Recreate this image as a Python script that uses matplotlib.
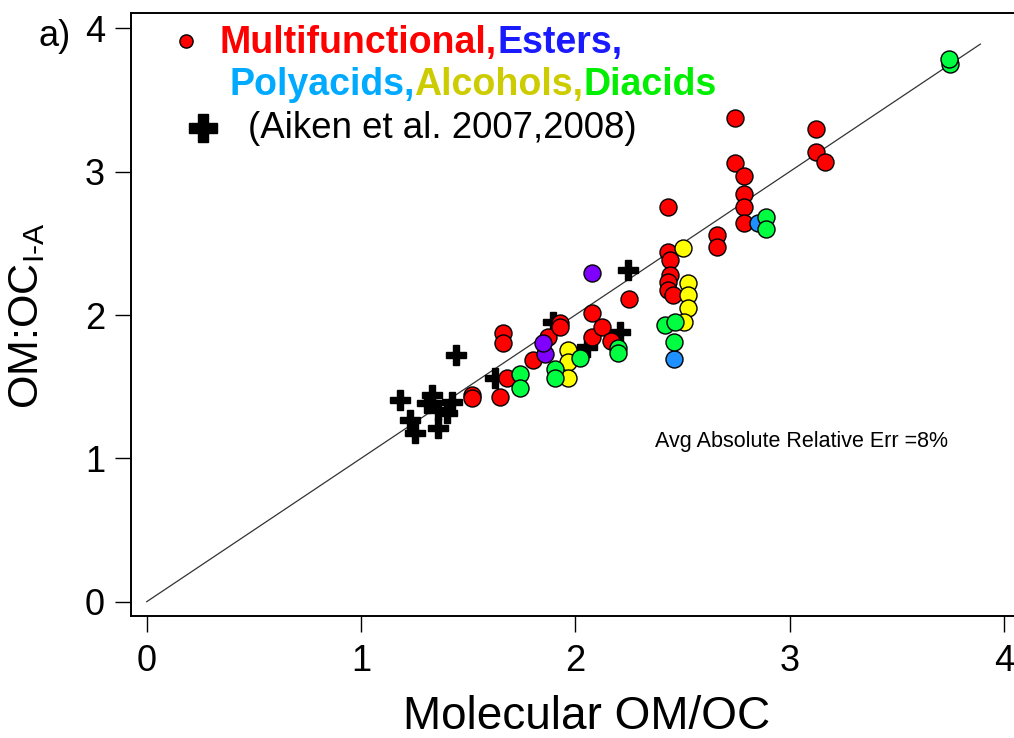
import matplotlib
matplotlib.use("Agg")
from matplotlib import pyplot as plt
import numpy as np

plt.rcParams['font.family'] = ['Liberation Sans', 'DejaVu Sans']
plt.rcParams['mathtext.fontset'] = 'custom'
plt.rcParams['mathtext.rm'] = 'Liberation Sans'
plt.rcParams['mathtext.default'] = 'regular'

# Data (Molecular OM/OC, OM:OC I-A)
multi_x = [1.517, 1.517, 1.649, 1.664, 1.664, 1.68, 1.804, 1.874, 1.929, 1.929,
           2.077, 2.077, 2.123, 2.165, 2.252, 2.434, 2.434, 2.442, 2.442, 2.434,
           2.434, 2.457, 2.66, 2.66, 2.745, 2.745, 2.787, 2.787, 2.787, 2.787,
           3.123, 3.123, 3.165]
multi_y = [1.442, 1.419, 1.43, 1.872, 1.803, 1.558, 1.686, 1.849, 1.942, 1.918,
           2.016, 1.849, 1.914, 1.821, 2.11, 2.756, 2.442, 2.384, 2.279, 2.232,
           2.174, 2.14, 2.558, 2.476, 3.372, 3.058, 2.97, 2.844, 2.751, 2.64,
           3.295, 3.139, 3.069]
esters_x = [1.859, 1.848, 2.077]
esters_y = [1.728, 1.807, 2.291]
poly_x = [2.461, 2.854]
poly_y = [1.691, 2.64]
alcohol_x = [1.967, 1.967, 1.967, 2.504, 2.527, 2.527, 2.527, 2.507]
alcohol_y = [1.756, 1.674, 1.558, 2.465, 2.225, 2.14, 2.047, 1.953]
diacid_x = [1.742, 1.742, 1.905, 1.905, 2.022, 2.2, 2.2, 2.419, 2.465, 2.461,
            2.89, 2.89, 3.75, 3.745]
diacid_y = [1.588, 1.488, 1.621, 1.558, 1.698, 1.768, 1.733, 1.93, 1.953, 1.814,
            2.681, 2.598, 3.75, 3.784]
aiken_x = [1.182, 1.228, 1.252, 1.307, 1.33, 1.36, 1.36, 1.40, 1.423, 1.445,
           1.625, 1.897, 2.053, 2.209, 2.247]
aiken_y = [1.407, 1.267, 1.177, 1.386, 1.442, 1.337, 1.21, 1.314, 1.395, 1.72,
           1.558, 1.953, 1.779, 1.883, 2.317]
line_end = 3.89

W, H = 1014, 738
fig = plt.figure(figsize=(W / 100, H / 100), dpi=100)
ax = fig.add_axes([130.7 / W, 1 - 616 / H, 1 - 130.7 / W, (616 - 12.7) / H])

# 1:1 line
ax.plot([0, line_end], [0, line_end], color='#333333', lw=0.9, zorder=1)

# Aiken et al. data
ax.plot(aiken_x, aiken_y, 'P', color='black', markersize=14.5, zorder=2)

groups = [
    (multi_x, multi_y, '#ff0000'),
    (esters_x, esters_y, '#7f00ff'),
    (poly_x, poly_y, '#1e90ff'),
    (alcohol_x, alcohol_y, '#ffff00'),
    (diacid_x, diacid_y, '#00ff40'),
]
for gx, gy, c in groups:
    ax.scatter(gx, gy, s=150, c=c, edgecolors='black', linewidths=1.0, zorder=3)

ax.set_xlim(-0.0747, 4.047)
ax.set_ylim(-0.0998, 4.109)
ax.set_xticks([0, 1, 2, 3, 4])
ax.set_yticks([0, 1, 2, 3, 4])
ax.tick_params(direction='out', length=11.5, width=1.0, labelsize=26)
ax.tick_params(axis='x', pad=9)
ax.tick_params(axis='y', pad=7)
ax.spines['right'].set_visible(False)
for s in ['left', 'bottom', 'top']:
    ax.spines[s].set_linewidth(1.4)

ax.set_xlabel('Molecular OM/OC', fontsize=33)
ax.xaxis.set_label_coords(0.516, -0.131)
ax.set_ylabel(r'OM:OC$_{\text{I-A}}$', fontsize=31)
ax.yaxis.set_label_coords(-0.095, 0.497)

# panel label
fig.text(38 / W, 1 - 46 / H, 'a)', fontsize=26, va='baseline', ha='left')

# legend text, built piece by piece
t1 = fig.text(220 / W, 1 - 53 / H, 'Multifunctional,', fontsize=27,
              fontweight='bold', color='#ff0000', va='baseline')
ax.annotate('Esters,', xy=(1, 0), xycoords=t1, va='bottom',
            fontsize=27, fontweight='bold', color='#1a1aff',
            annotation_clip=False)
t2 = fig.text(229 / W, 1 - 95 / H, 'Polyacids,', fontsize=27,
              fontweight='bold', color='#00aaff', va='baseline')
t3 = ax.annotate('Alcohols,', xy=(1, 0), xycoords=t2, va='bottom',
                 fontsize=27, fontweight='bold', color='#cccc00',
                 annotation_clip=False)
ax.annotate('Diacids', xy=(1, 0), xycoords=t3, va='bottom',
            fontsize=27, fontweight='bold', color='#00ee00',
            annotation_clip=False)
fig.text(248 / W, 1 - 138 / H, '(Aiken et al. 2007,2008)', fontsize=26.4,
         va='baseline')

# legend symbols
fig.lines.append(plt.Line2D([186 / W], [1 - 41 / H], marker='o', color='none',
                            markerfacecolor='#ff0000', markeredgecolor='black',
                            markersize=9.5, transform=fig.transFigure))
fig.lines.append(plt.Line2D([203 / W], [1 - 128 / H], marker='P', color='none',
                            markerfacecolor='black', markeredgecolor='black',
                            markersize=20, transform=fig.transFigure))

fig.text(655 / W, 1 - 447 / H, 'Avg Absolute Relative Err =8%', fontsize=15.5,
         va='baseline')

fig.savefig('out.png', dpi=100)
